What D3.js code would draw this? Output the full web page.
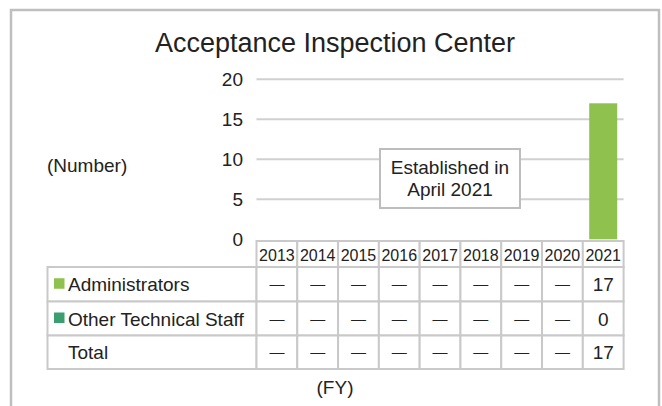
<!DOCTYPE html>
<html>
<head>
<meta charset="utf-8">
<script src="https://cdn.jsdelivr.net/npm/d3@7"></script>
<style>
  html, body { margin: 0; padding: 0; background: #fff; }
  svg { display: block; font-family: "Liberation Sans", Arial, sans-serif; }
</style>
</head>
<body>
<svg id="chart" width="662" height="406"></svg>
<script>
// Staffing of the Acceptance Inspection Center by fiscal year
const years = ["2013", "2014", "2015", "2016", "2017", "2018", "2019", "2020", "2021"];
const administrators = [null, null, null, null, null, null, null, null, 17];
const otherTechnicalStaff = [null, null, null, null, null, null, null, null, 0];
const totals = [null, null, null, null, null, null, null, null, 17];
const yTicks = [0, 5, 10, 15, 20];

const seriesNames = ["Administrators", "Other Technical Staff"];
const seriesColors = ["#8fc14f", "#3a9e6e"];

const svg = d3.select("#chart");
const gridColor = "#d0d0d0";
const tableColor = "#c9c9c9";
const textColor = "#222";

// Outer frame
svg.append("rect")
  .attr("x", 11).attr("y", 10).attr("width", 648).attr("height", 420)
  .attr("fill", "#fff").attr("stroke", "#bfbfbf").attr("stroke-width", 2.5);

// Title
svg.append("text")
  .attr("x", 335).attr("y", 52)
  .attr("text-anchor", "middle")
  .attr("font-size", 27).attr("fill", textColor)
  .text("Acceptance Inspection Center");

// Scales
const x = d3.scaleBand().domain(years).range([256.5, 623.6]).paddingInner(0).paddingOuter(0);
const y = d3.scaleLinear().domain([0, 20]).range([239.3, 79.3]);

// Gridlines
svg.append("g").selectAll("line")
  .data(yTicks.filter(t => t > 0))
  .join("line")
  .attr("x1", 256.5).attr("x2", 623.6)
  .attr("y1", d => y(d)).attr("y2", d => y(d))
  .attr("stroke", gridColor).attr("stroke-width", 2);

// Y axis labels
const yAxis = d3.axisLeft(y).tickValues(yTicks).tickSize(0).tickPadding(0);
const gy = svg.append("g").attr("transform", "translate(243,0)").call(yAxis);
gy.select(".domain").remove();
gy.selectAll("text")
  .attr("font-size", 19).attr("fill", textColor)
  .attr("font-family", "Liberation Sans, Arial, sans-serif");

// Unit label
svg.append("text")
  .attr("x", 47).attr("y", 172)
  .attr("font-size", 19).attr("fill", textColor)
  .text("(Number)");

// Stacked bars
const stackData = years.map((yr, i) => ({
  year: yr,
  Administrators: administrators[i] || 0,
  "Other Technical Staff": otherTechnicalStaff[i] || 0
}));
const stacked = d3.stack().keys(seriesNames)(stackData);
const barW = 28;
svg.append("g").selectAll("g")
  .data(stacked)
  .join("g")
  .attr("fill", (d, i) => seriesColors[i])
  .selectAll("rect")
  .data(d => d.filter(p => p[1] - p[0] > 0))
  .join("rect")
  .attr("x", d => x(d.data.year) + (x.bandwidth() - barW) / 2)
  .attr("width", barW)
  .attr("y", d => y(d[1]))
  .attr("height", d => y(d[0]) - y(d[1]));

// Annotation box
const note = svg.append("g");
note.append("rect")
  .attr("x", 380).attr("y", 149).attr("width", 140).attr("height", 59)
  .attr("fill", "#fff").attr("stroke", "#bdbdbd").attr("stroke-width", 2);
note.append("text")
  .attr("x", 450).attr("y", 174)
  .attr("text-anchor", "middle").attr("font-size", 19).attr("fill", textColor)
  .text("Established in");
note.append("text")
  .attr("x", 450).attr("y", 196)
  .attr("text-anchor", "middle").attr("font-size", 19).attr("fill", textColor)
  .text("April 2021");

// Data table
const tableLeft = 47.5;
const labelRight = 256.5;
const tableRight = 623.6;
const headerTop = 241;
const rowEdges = [267, 301.5, 335.5, 369];
const table = svg.append("g");

// Year header cells
table.append("g").selectAll("rect")
  .data(years)
  .join("rect")
  .attr("x", d => x(d)).attr("y", headerTop)
  .attr("width", x.bandwidth()).attr("height", rowEdges[0] - headerTop)
  .attr("fill", "#fff").attr("stroke", tableColor).attr("stroke-width", 2);
table.append("g").selectAll("text")
  .data(years)
  .join("text")
  .attr("x", d => x(d) + x.bandwidth() / 2).attr("y", 261)
  .attr("text-anchor", "middle").attr("font-size", 16).attr("fill", textColor)
  .text(d => d);

// Body rows
const rows = [
  { name: seriesNames[0], values: administrators, color: seriesColors[0] },
  { name: seriesNames[1], values: otherTechnicalStaff, color: seriesColors[1] },
  { name: "Total", values: totals, color: null }
];

rows.forEach((row, r) => {
  const top = rowEdges[r], bottom = rowEdges[r + 1];
  const mid = (top + bottom) / 2;
  table.append("rect")
    .attr("x", tableLeft).attr("y", top)
    .attr("width", labelRight - tableLeft).attr("height", bottom - top)
    .attr("fill", "#fff").attr("stroke", tableColor).attr("stroke-width", 2);
  if (row.color) {
    table.append("rect")
      .attr("x", 54).attr("y", mid - 6)
      .attr("width", 10.5).attr("height", 10.5)
      .attr("fill", row.color);
  }
  table.append("text")
    .attr("x", 68).attr("y", mid + 7)
    .attr("font-size", 19).attr("fill", textColor)
    .text(row.name);
  table.append("g").selectAll("rect")
    .data(years)
    .join("rect")
    .attr("x", d => x(d)).attr("y", top)
    .attr("width", x.bandwidth()).attr("height", bottom - top)
    .attr("fill", "#fff").attr("stroke", tableColor).attr("stroke-width", 2);
  table.append("g").selectAll("text")
    .data(row.values)
    .join("text")
    .attr("x", (d, i) => x(years[i]) + x.bandwidth() / 2)
    .attr("y", d => d === null ? mid + 5 : mid + 7)
    .attr("text-anchor", "middle")
    .attr("font-size", d => d === null ? 15 : 19)
    .attr("fill", textColor)
    .text(d => d === null ? "—" : d);
});

// Axis title
svg.append("text")
  .attr("x", 335).attr("y", 394)
  .attr("text-anchor", "middle").attr("font-size", 19).attr("fill", textColor)
  .text("(FY)");
</script>
</body>
</html>
